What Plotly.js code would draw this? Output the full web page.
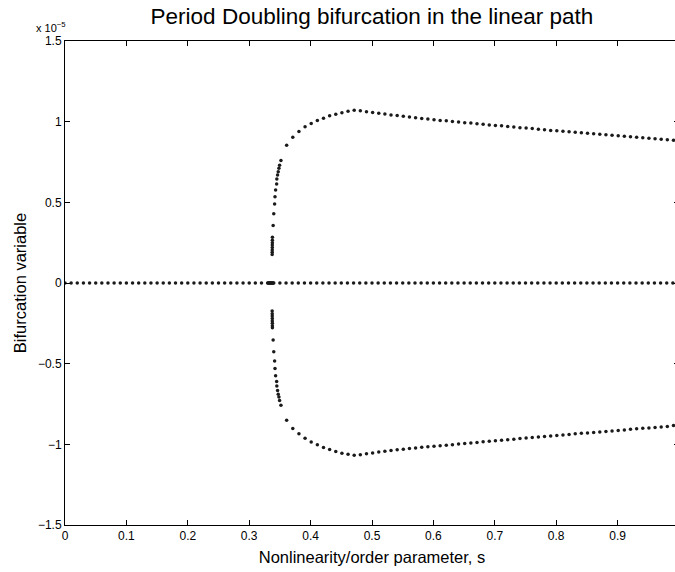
<!DOCTYPE html>
<html>
<head>
<meta charset="utf-8">
<script src="https://cdn.plot.ly/plotly-3.0.1.min.js"></script>
<style>
html,body{margin:0;padding:0;overflow:hidden;background:#fff;}
#chart{width:680px;height:572px;}
</style>
</head>
<body>
<div id="chart"></div>
<script>
// Trivial (zero) branch: s values and bifurcation variable (units of 1e-5)
var zeroS = [0.00,0.01,0.02,0.03,0.04,0.05,0.06,0.07,0.08,0.09,
  0.10,0.11,0.12,0.13,0.14,0.15,0.16,0.17,0.18,0.19,
  0.20,0.21,0.22,0.23,0.24,0.25,0.26,0.27,0.28,0.29,
  0.30,0.31,0.32,0.33,0.331,0.332,0.333,0.334,0.335,0.336,0.337,0.338,0.339,
  0.34,0.35,0.36,0.37,0.38,0.39,
  0.40,0.41,0.42,0.43,0.44,0.45,0.46,0.47,0.48,0.49,
  0.50,0.51,0.52,0.53,0.54,0.55,0.56,0.57,0.58,0.59,
  0.60,0.61,0.62,0.63,0.64,0.65,0.66,0.67,0.68,0.69,
  0.70,0.71,0.72,0.73,0.74,0.75,0.76,0.77,0.78,0.79,
  0.80,0.81,0.82,0.83,0.84,0.85,0.86,0.87,0.88,0.89,
  0.90,0.91,0.92,0.93,0.94,0.95,0.96,0.97,0.98,0.99];
var zeroY = zeroS.map(function(){return 0;});

// Upper period-doubled branch
var upperS = [0.3374,0.3375,0.3375,0.3376,0.3376,0.3377,0.3377,0.3378,
  0.339,0.340,0.3414,0.342,0.343,0.3447,0.345,0.3462,0.3473,0.3484,0.3495,0.3517,
  0.361,0.371,0.381,0.391,0.401,0.411,0.421,0.431,0.441,0.451,
  0.461,0.471,0.481,0.491,0.501,0.511,0.521,0.531,0.541,0.551,
  0.561,0.571,0.581,0.591,0.601,0.611,0.621,0.631,0.641,0.651,
  0.661,0.671,0.681,0.691,0.701,0.711,0.721,0.731,0.741,0.751,
  0.761,0.771,0.781,0.791,0.801,0.811,0.821,0.831,0.841,0.851,
  0.861,0.871,0.881,0.891,0.901,0.911,0.921,0.931,0.941,0.951,
  0.961,0.971,0.981,0.991];
var upperY = [0.176,0.19,0.205,0.22,0.235,0.25,0.265,0.283,
  0.357,0.430,0.490,0.534,0.577,0.614,0.645,0.670,0.690,0.711,0.730,0.759,
  0.854,0.903,0.939,0.968,0.988,1.007,1.021,1.036,1.046,1.055,
  1.065,1.071,1.067,1.062,1.057,1.052,1.047,1.042,1.038,1.033,
  1.029,1.024,1.020,1.016,1.012,1.008,1.005,1.001,0.998,0.994,
  0.991,0.987,0.984,0.980,0.977,0.974,0.970,0.967,0.963,0.960,
  0.957,0.953,0.950,0.946,0.943,0.940,0.937,0.934,0.931,0.928,
  0.925,0.922,0.919,0.916,0.913,0.909,0.906,0.903,0.900,0.897,
  0.894,0.891,0.888,0.885];

// Lower period-doubled branch
var lowerS = upperS.slice();
var lowerY = [-0.174,-0.19,-0.205,-0.22,-0.235,-0.25,-0.265,-0.277,
  -0.354,-0.426,-0.484,-0.530,-0.575,-0.610,-0.639,-0.666,-0.689,-0.707,-0.728,-0.757,
  -0.850,-0.902,-0.935,-0.962,-0.985,-1.003,-1.020,-1.032,-1.045,-1.055,
  -1.061,-1.067,-1.065,-1.059,-1.053,-1.047,-1.043,-1.038,-1.034,-1.030,
  -1.026,-1.022,-1.018,-1.015,-1.012,-1.009,-1.005,-1.002,-0.998,-0.995,
  -0.991,-0.988,-0.984,-0.981,-0.978,-0.974,-0.971,-0.968,-0.964,-0.961,
  -0.958,-0.955,-0.951,-0.948,-0.945,-0.942,-0.939,-0.935,-0.932,-0.929,
  -0.926,-0.923,-0.920,-0.917,-0.914,-0.911,-0.907,-0.904,-0.901,-0.898,
  -0.895,-0.892,-0.889,-0.883];

var xTicks = [0,0.1,0.2,0.3,0.4,0.5,0.6,0.7,0.8,0.9];
var xTickText = ['0','0.1','0.2','0.3','0.4','0.5','0.6','0.7','0.8','0.9'];
var yTicks = [-1.5,-1,-0.5,0,0.5,1,1.5];
var yTickText = ['\u22121.5','\u22121','\u22120.5','0','0.5','1','1.5'];

var FONT = 'Liberation Sans, Arial, Helvetica, sans-serif';
var mk = {size:3.5, color:'#1a1a1a'};

var traces = [
  {x:zeroS, y:zeroY, mode:'markers', type:'scatter', marker:mk, hoverinfo:'skip'},
  {x:upperS, y:upperY, mode:'markers', type:'scatter', marker:mk, hoverinfo:'skip'},
  {x:lowerS, y:lowerY, mode:'markers', type:'scatter', marker:mk, hoverinfo:'skip'}
];

var layout = {
  width:680, height:572,
  margin:{l:65, r:1, t:41, b:47},
  paper_bgcolor:'#fff', plot_bgcolor:'#fff',
  showlegend:false,
  font:{family:FONT, color:'#000', size:12},
  title:{text:'Period Doubling bifurcation in the linear path',
    font:{family:FONT, size:22.5, color:'#000'},
    xref:'paper', x:0.5, xanchor:'center', yref:'container', y:1-16/572, yanchor:'middle'},
  xaxis:{range:[0,1], tickvals:xTicks, ticktext:xTickText, ticks:'inside', ticklen:5,
    tickcolor:'#000', tickwidth:1, showline:true, linecolor:'#000', linewidth:1, mirror:'ticks',
    showgrid:false, zeroline:false, tickfont:{size:12, family:FONT},
    title:{text:'Nonlinearity/order parameter, s', font:{size:16.5, family:FONT}, standoff:9}},
  yaxis:{range:[-1.5,1.5], tickvals:yTicks, ticktext:yTickText, ticks:'inside', ticklen:5,
    tickcolor:'#000', tickwidth:1, showline:true, linecolor:'#000', linewidth:1, mirror:'ticks',
    showgrid:false, zeroline:false, tickfont:{size:12, family:FONT},
    title:{text:'Bifurcation variable', font:{size:16.5, family:FONT}, standoff:7}},
  annotations:[{text:'x 10<sup>\u22125</sup>', xref:'paper', yref:'paper', x:-31/614, y:1,
    xanchor:'left', yanchor:'bottom', yshift:5, showarrow:false, font:{size:11, family:FONT, color:'#000'}}]
};

Plotly.newPlot('chart', traces, layout, {staticPlot:true, displayModeBar:false});
</script>
</body>
</html>
